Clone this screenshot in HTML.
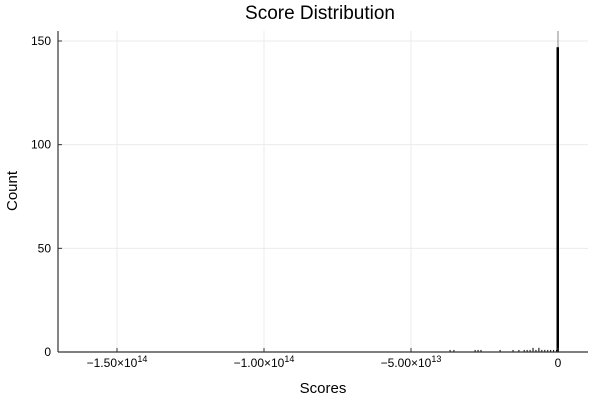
<!DOCTYPE html>
<html><head><meta charset="utf-8"><style>
body{margin:0;background:#fff}
svg{display:block;font-family:"Liberation Sans","DejaVu Sans",sans-serif}
</style></head><body>
<svg id="chart" width="600" height="400">
<text x="320" y="19" text-anchor="middle" font-size="19">Score Distribution</text>
<text x="323" y="393" text-anchor="middle" font-size="15">Scores</text>
<text transform="translate(17,191) rotate(-90)" text-anchor="middle" font-size="15">Count</text>
<g id="grid"></g><g id="bars"></g><g id="axes"></g>
</svg>
<script>
// bin centers in units of 1e12, counts
const binCenters=[-36.7,-35.4,-28.2,-27.2,-26.2,-19.7,-15.3,-13.3,-11.5,-10.5,-9.5,-8.5,-7.5,-6.5,-5.5,-4.5,-3.5,-2.5,-1.5,-0.5,0];
const binCounts=[1,1,1,1,1,1,1,1,1,1,1,2,1,2,1,1,1,1,1,1,147];
const yTicks=[0,50,100,150];
const xTicks=[-150,-100,-50,0];
const xTickLabels=["\u22121.50\u00d710","\u22121.00\u00d710","\u22125.00\u00d710","0"];
const xTickExp=["14","14","13",""];
const binWidth=0.35;
const L=58,R=588,T=31,B=352;
const xs=v=>558+(v/50)*147;
const ys=v=>B-v*(B-41)/150;
const NS="http://www.w3.org/2000/svg";
function mk(tag,attrs,parent){const e=document.createElementNS(NS,tag);for(const k in attrs)e.setAttribute(k,attrs[k]);parent.appendChild(e);return e;}
const grid=document.getElementById('grid'),bars=document.getElementById('bars'),axes=document.getElementById('axes');
yTicks.forEach(t=>{const l=mk('line',{x1:L,x2:R,y1:ys(t),y2:ys(t),stroke:'#ebebeb','stroke-width':1},grid);


const tk=mk('line',{x1:L,x2:L+4,y1:ys(t),y2:ys(t),stroke:'#333'},axes);


const tx=mk('text',{x:L-7,y:ys(t)+4,'text-anchor':'end','font-size':12},axes);tx.textContent=t;

});
xTicks.forEach((t,i)=>{const l=mk('line',{x1:xs(t),x2:xs(t),y1:T,y2:B,stroke:t===0?'#888':'#ebebeb','stroke-width':1},grid);


const tk=mk('line',{x1:xs(t),x2:xs(t),y1:B,y2:B-4,stroke:'#333'},axes);


const tx=mk('text',{x:xs(t),y:B+15,'text-anchor':'middle','font-size':12},axes);tx.textContent=xTickLabels[i];
if(xTickExp[i]){const s=mk('tspan',{dy:-5,'font-size':9},tx);s.textContent=xTickExp[i];}

});
binCenters.forEach((c,i)=>{const x0=xs(c-binWidth/2),x1=xs(c+binWidth/2);
const last=i===binCenters.length-1;
const r=mk('rect',{x:last?556.5:x0,y:ys(binCounts[i]),width:last?2.5:Math.max(1,x1-x0),height:B-ys(binCounts[i]),fill:'#000'},bars);

});
const ax=mk('line',{x1:L,x2:L,y1:T,y2:B,stroke:'#333','stroke-width':1.2},axes);


const bx=mk('line',{x1:L,x2:R,y1:B,y2:B,stroke:'#333','stroke-width':1.2},axes);


</script>
</body></html>
